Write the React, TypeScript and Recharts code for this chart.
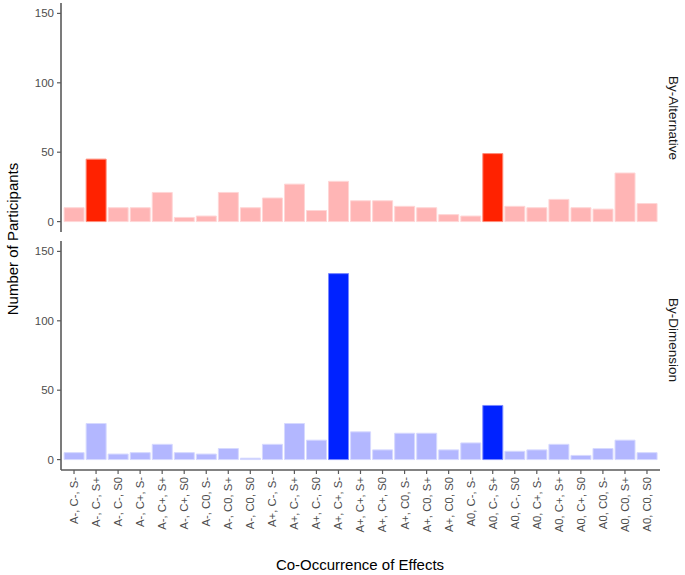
import React from "react";
import { BarChart, Bar, XAxis, YAxis, Cell } from "recharts";

const categories = [
  "A-, C-, S-", "A-, C-, S+", "A-, C-, S0",
  "A-, C+, S-", "A-, C+, S+", "A-, C+, S0",
  "A-, C0, S-", "A-, C0, S+", "A-, C0, S0",
  "A+, C-, S-", "A+, C-, S+", "A+, C-, S0",
  "A+, C+, S-", "A+, C+, S+", "A+, C+, S0",
  "A+, C0, S-", "A+, C0, S+", "A+, C0, S0",
  "A0, C-, S-", "A0, C-, S+", "A0, C-, S0",
  "A0, C+, S-", "A0, C+, S+", "A0, C+, S0",
  "A0, C0, S-", "A0, C0, S+", "A0, C0, S0",
];

const byAlternative = [10, 45, 10, 10, 21, 3, 4, 21, 10, 17, 27, 8, 29, 15, 15, 11, 10, 5, 4, 49, 11, 10, 16, 10, 9, 35, 13];
const byDimension = [5, 26, 4, 5, 11, 5, 4, 8, 1, 11, 26, 14, 134, 20, 7, 19, 19, 7, 12, 39, 6, 7, 11, 3, 8, 14, 5];

const altHighlighted = ["A-, C-, S+", "A0, C-, S+"];
const dimHighlighted = ["A+, C+, S-", "A0, C-, S+"];

const yTicks = [0, 50, 100, 150];

const altData = categories.map((c, i) => ({ cat: c, value: byAlternative[i] }));
const dimData = categories.map((c, i) => ({ cat: c, value: byDimension[i] }));

const FONT = "'Liberation Sans', Arial, sans-serif";
const AXIS = "#5a5a5a";

const XTick = (props: any) => {
  const { x, y, payload } = props;
  return (
    <text
      x={x}
      y={y}
      transform={`rotate(-90 ${x} ${y})`}
      textAnchor="end"
      dy="0.35em"
      fontSize={11.3}
      fill="#4d4d4d"
      fontFamily={FONT}
    >
      {payload.value}
    </text>
  );
};

const YTick = (props: any) => {
  const { x, y, payload } = props;
  return (
    <text x={x} y={y} textAnchor="end" dy="0.35em" fontSize={11.5} fill="#4d4d4d" fontFamily={FONT}>
      {payload.value}
    </text>
  );
};

const yAxisProps = {
  width: 61,
  domain: [-7.5, 157.5] as [number, number],
  ticks: yTicks,
  interval: 0 as const,
  tickSize: 4,
  tickMargin: 3,
  axisLine: { stroke: AXIS, strokeWidth: 1.6 },
  tickLine: { stroke: AXIS, strokeWidth: 1.2 },
  tick: <YTick />,
  allowDataOverflow: true,
};

export default function App() {
  return (
    <div style={{ position: "absolute", left: 0, top: 0, width: 685, height: 575, background: "#fff", fontFamily: FONT }}>
      <div style={{ position: "absolute", left: 0, top: 0 }}>
        <BarChart width={685} height={235} data={altData} margin={{ top: 3, right: 25, bottom: 3, left: 0 }} barCategoryGap="5%">
          <XAxis dataKey="cat" hide padding={{ left: 2, right: 2 }} />
          <YAxis {...yAxisProps} />
          <Bar dataKey="value" isAnimationActive={false}>
            {altData.map((d) => {
              const hi = altHighlighted.includes(d.cat);
              return <Cell key={d.cat} fill={hi ? "#FF2200" : "#FFB5B5"} stroke={hi ? "#FF8C7A" : "#FFD6D6"} strokeWidth={1} />;
            })}
          </Bar>
        </BarChart>
      </div>
      <div style={{ position: "absolute", left: 0, top: 235 }}>
        <BarChart width={685} height={340} data={dimData} margin={{ top: 6, right: 25, bottom: 0, left: 0 }} barCategoryGap="5%">
          <XAxis
            dataKey="cat"
            interval={0}
            height={105}
            padding={{ left: 2, right: 2 }}
            tickSize={4}
            tickMargin={3}
            axisLine={{ stroke: AXIS, strokeWidth: 1.6 }}
            tickLine={{ stroke: AXIS, strokeWidth: 1.2 }}
            tick={<XTick />}
          />
          <YAxis {...yAxisProps} />
          <Bar dataKey="value" isAnimationActive={false}>
            {dimData.map((d) => {
              const hi = dimHighlighted.includes(d.cat);
              return <Cell key={d.cat} fill={hi ? "#0022FF" : "#B3B7FF"} stroke={hi ? "#7A88FF" : "#D6D9FF"} strokeWidth={1} />;
            })}
          </Bar>
        </BarChart>
      </div>
      <div
        style={{
          position: "absolute",
          left: 12,
          top: 239,
          transform: "translate(-50%, -50%) rotate(-90deg)",
          whiteSpace: "nowrap",
          fontSize: 15,
          color: "#000",
        }}
      >
        Number of Participants
      </div>
      <div
        style={{
          position: "absolute",
          left: 360,
          top: 564,
          transform: "translate(-50%, -50%)",
          whiteSpace: "nowrap",
          fontSize: 15,
          color: "#000",
        }}
      >
        Co-Occurrence of Effects
      </div>
      <div
        style={{
          position: "absolute",
          left: 673,
          top: 118,
          transform: "translate(-50%, -50%) rotate(90deg)",
          whiteSpace: "nowrap",
          fontSize: 13.5,
          color: "#1a1a1a",
        }}
      >
        By-Alternative
      </div>
      <div
        style={{
          position: "absolute",
          left: 673,
          top: 340,
          transform: "translate(-50%, -50%) rotate(90deg)",
          whiteSpace: "nowrap",
          fontSize: 13.5,
          color: "#1a1a1a",
        }}
      >
        By-Dimension
      </div>
    </div>
  );
}
